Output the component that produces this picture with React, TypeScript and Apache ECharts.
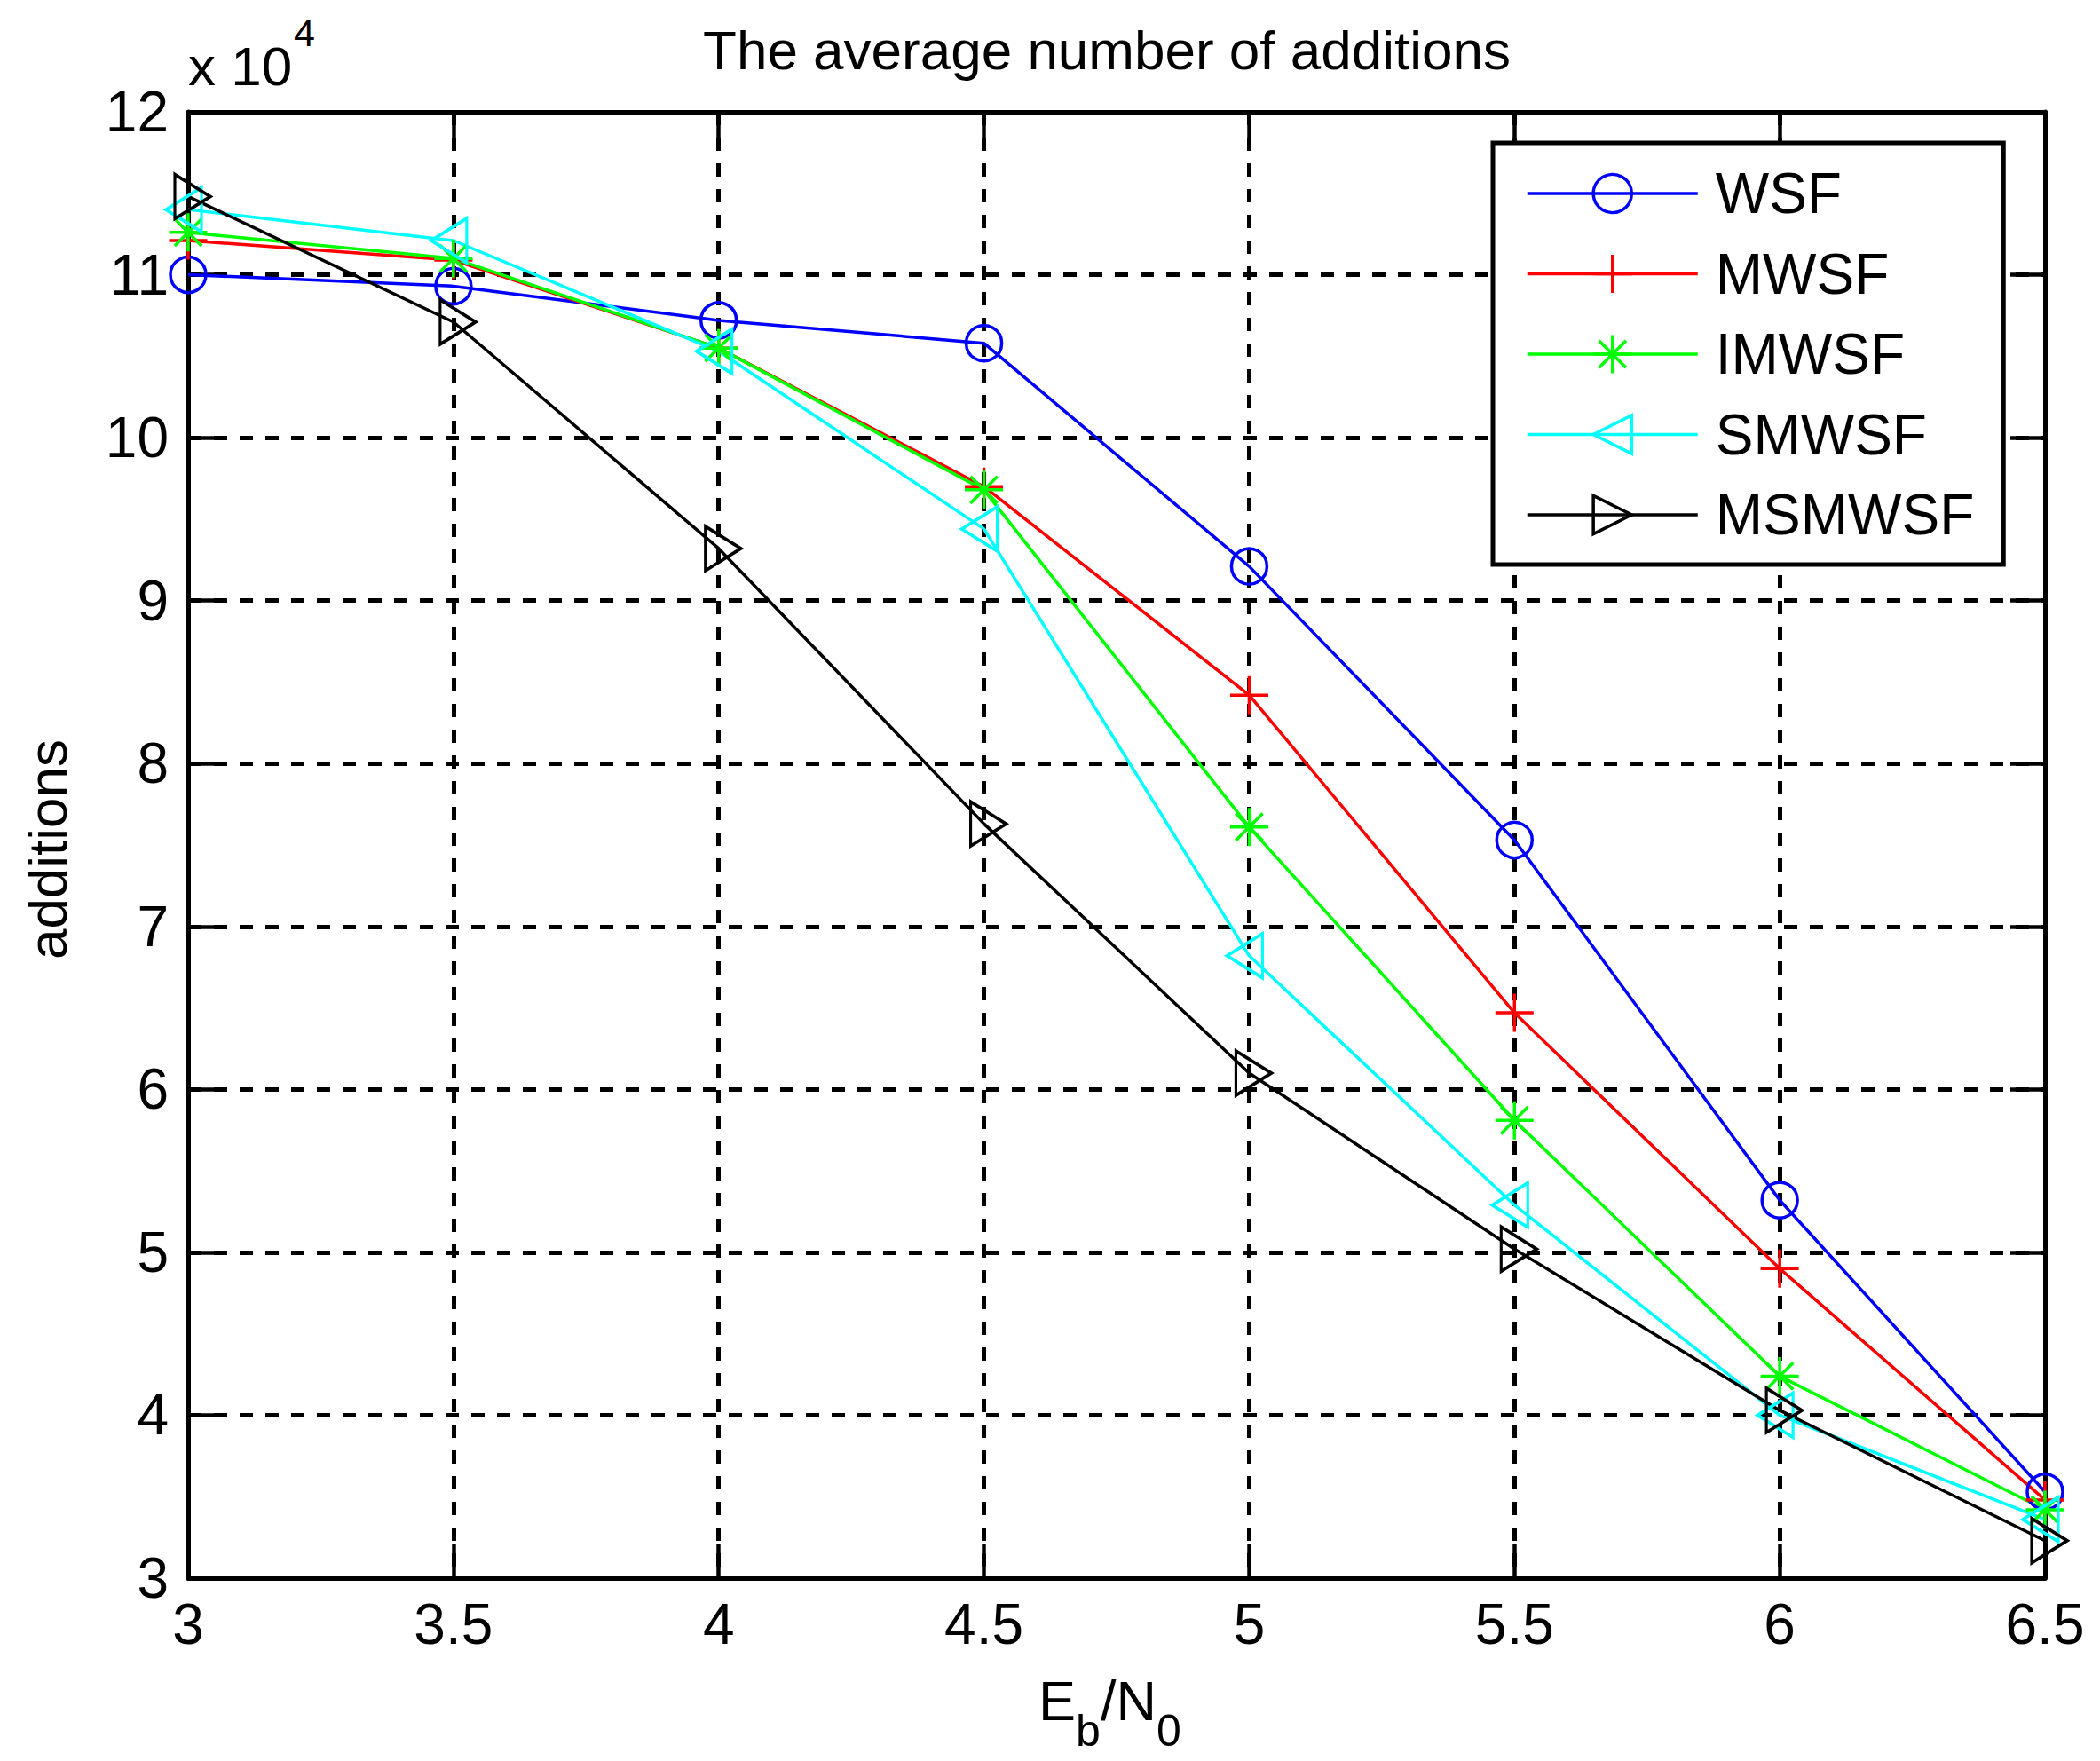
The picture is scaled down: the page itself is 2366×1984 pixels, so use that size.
import React, { useEffect, useRef } from "react";
import * as echarts from "echarts";

// ---- data (values in units of 10^4 additions) ----
const ebN0 = [3, 3.5, 4, 4.5, 5, 5.5, 6, 6.5];
const wsf = [11.0, 10.93, 10.72, 10.58, 9.21, 7.53, 5.32, 3.53];
const mwsf = [11.21, 11.09, 10.55, 9.7, 8.42, 6.47, 4.9, 3.48];
const imwsf = [11.26, 11.1, 10.55, 9.68, 7.61, 5.81, 4.24, 3.42];
const smwsf = [11.4, 11.21, 10.53, 9.44, 6.82, 5.29, 4.0, 3.36];
const msmwsf = [11.48, 10.71, 9.32, 7.63, 6.1, 5.02, 4.03, 3.23];
const seriesNames = ["WSF", "MWSF", "IMWSF", "SMWSF", "MSMWSF"];
const xTicks = { min: 3, max: 6.5, step: 0.5 };
const yTicks = { min: 3, max: 12, step: 1 };
const titleText = "The average number of additions";
const yName = "additions";

const FF = "'Liberation Sans', Arial, Helvetica, sans-serif";

const PLUS = "path://M10,0L10,20M0,10L20,10";
const STAR =
  "path://M10,0L10,20M0,10L20,10M2.93,2.93L17.07,17.07M17.07,2.93L2.93,17.07";
const TRI_LEFT = "path://M0,10L20,0L20,20Z";
const TRI_RIGHT = "path://M0,0L20,10L0,20Z";

function makeSeries(
  name: string,
  values: number[],
  color: string,
  symbol: string,
  size: number | number[],
  offset: number[]
) {
  return {
    name,
    type: "line",
    data: ebN0.map((x, i) => [x, values[i]]),
    symbol,
    symbolSize: size,
    symbolOffset: offset,
    showSymbol: true,
    showAllSymbol: true,
    clip: false,
    lineStyle: { color, width: 3.5 },
    itemStyle: { color: "rgba(0,0,0,0)", borderColor: color, borderWidth: 3.5 },
    emphasis: { disabled: true },
  };
}

export default function App() {
  const ref = useRef<HTMLDivElement>(null);
  useEffect(() => {
    if (!ref.current) return;
    const chart = echarts.init(ref.current, null, { renderer: "svg" });
    const axisLine = { show: true, onZero: false, lineStyle: { color: "#000", width: 5 } };
    const axisTick = { show: true, inside: true, length: 39, lineStyle: { color: "#000", width: 4.5 } };
    const split = { show: true, lineStyle: { color: "#000", width: 5, type: [15, 14] } };
    chart.setOption({
      animation: false,
      backgroundColor: "#fff",
      grid: { left: 212, right: 62, top: 126, bottom: 206, containLabel: false },
      xAxis: [
        {
          type: "value",
          min: xTicks.min,
          max: xTicks.max,
          interval: xTicks.step,
          position: "bottom",
          axisLine,
          axisTick,
          axisLabel: {
            color: "#000",
            fontSize: 64,
            fontFamily: FF,
            margin: 52,
            verticalAlign: "middle",
          },
          splitLine: split,
        },
        {
          type: "value",
          min: xTicks.min,
          max: xTicks.max,
          interval: xTicks.step,
          position: "top",
          axisLine,
          axisTick,
          axisLabel: { show: false },
          splitLine: { show: false },
        },
      ],
      yAxis: [
        {
          type: "value",
          min: yTicks.min,
          max: yTicks.max,
          interval: yTicks.step,
          position: "left",
          axisLine,
          axisTick,
          axisLabel: { color: "#000", fontSize: 64, fontFamily: FF, margin: 22 },
          splitLine: split,
        },
        {
          type: "value",
          min: yTicks.min,
          max: yTicks.max,
          interval: yTicks.step,
          position: "right",
          axisLine,
          axisTick,
          axisLabel: { show: false },
          splitLine: { show: false },
        },
      ],
      legend: {
        orient: "vertical",
        left: 1682,
        top: 161,
        padding: [25, 33, 24, 37],
        itemWidth: 192,
        itemHeight: 54,
        itemGap: 26.5,
        backgroundColor: "#fff",
        borderColor: "#000",
        borderWidth: 5,
        selectedMode: false,
        textStyle: { color: "#000", fontSize: 64, fontFamily: FF, padding: [0, 0, 0, 15] },
        itemStyle: { borderWidth: 3.5 },
        lineStyle: { width: 3.5 },
        data: seriesNames,
      },
      series: [
        makeSeries(seriesNames[0], wsf, "#0000ff", "circle", 40, [0, 0]),
        makeSeries(seriesNames[1], mwsf, "#ff0000", PLUS, [43, 43], [0, 0]),
        makeSeries(seriesNames[2], imwsf, "#00ff00", STAR, [43, 43], [0, 0]),
        makeSeries(seriesNames[3], smwsf, "#00ffff", TRI_LEFT, [40, 50], [-5, 0]),
        makeSeries(seriesNames[4], msmwsf, "#000000", TRI_RIGHT, [40, 50], [5, 0]),
      ],
      graphic: [
        {
          type: "text",
          x: 1247,
          y: 56,
          style: { text: titleText, fill: "#000", fontSize: 62, fontFamily: FF, align: "center", verticalAlign: "middle" },
        },
        {
          type: "text",
          x: 212,
          y: 74,
          style: { text: "x 10", fill: "#000", fontSize: 62, fontFamily: FF, align: "left", verticalAlign: "middle" },
        },
        {
          type: "text",
          x: 331,
          y: 37,
          style: { text: "4", fill: "#000", fontSize: 43, fontFamily: FF, align: "left", verticalAlign: "middle" },
        },
        {
          type: "text",
          x: 53,
          y: 957,
          rotation: Math.PI / 2,
          style: { text: yName, fill: "#000", fontSize: 62, fontFamily: FF, align: "center", verticalAlign: "middle" },
        },
        {
          type: "text",
          x: 1170,
          y: 1916,
          style: { text: "E", fill: "#000", fontSize: 63, fontFamily: FF, align: "left", verticalAlign: "middle" },
        },
        {
          type: "text",
          x: 1212,
          y: 1950,
          style: { text: "b", fill: "#000", fontSize: 50, fontFamily: FF, align: "left", verticalAlign: "middle" },
        },
        {
          type: "text",
          x: 1240,
          y: 1916,
          style: { text: "/N", fill: "#000", fontSize: 63, fontFamily: FF, align: "left", verticalAlign: "middle" },
        },
        {
          type: "text",
          x: 1303,
          y: 1950,
          style: { text: "0", fill: "#000", fontSize: 50, fontFamily: FF, align: "left", verticalAlign: "middle" },
        },
      ],
    });
    return () => chart.dispose();
  }, []);
  return (
    <div
      ref={ref}
      style={{ position: "absolute", left: 0, top: 0, width: 2366, height: 1984, background: "#fff" }}
    />
  );
}
